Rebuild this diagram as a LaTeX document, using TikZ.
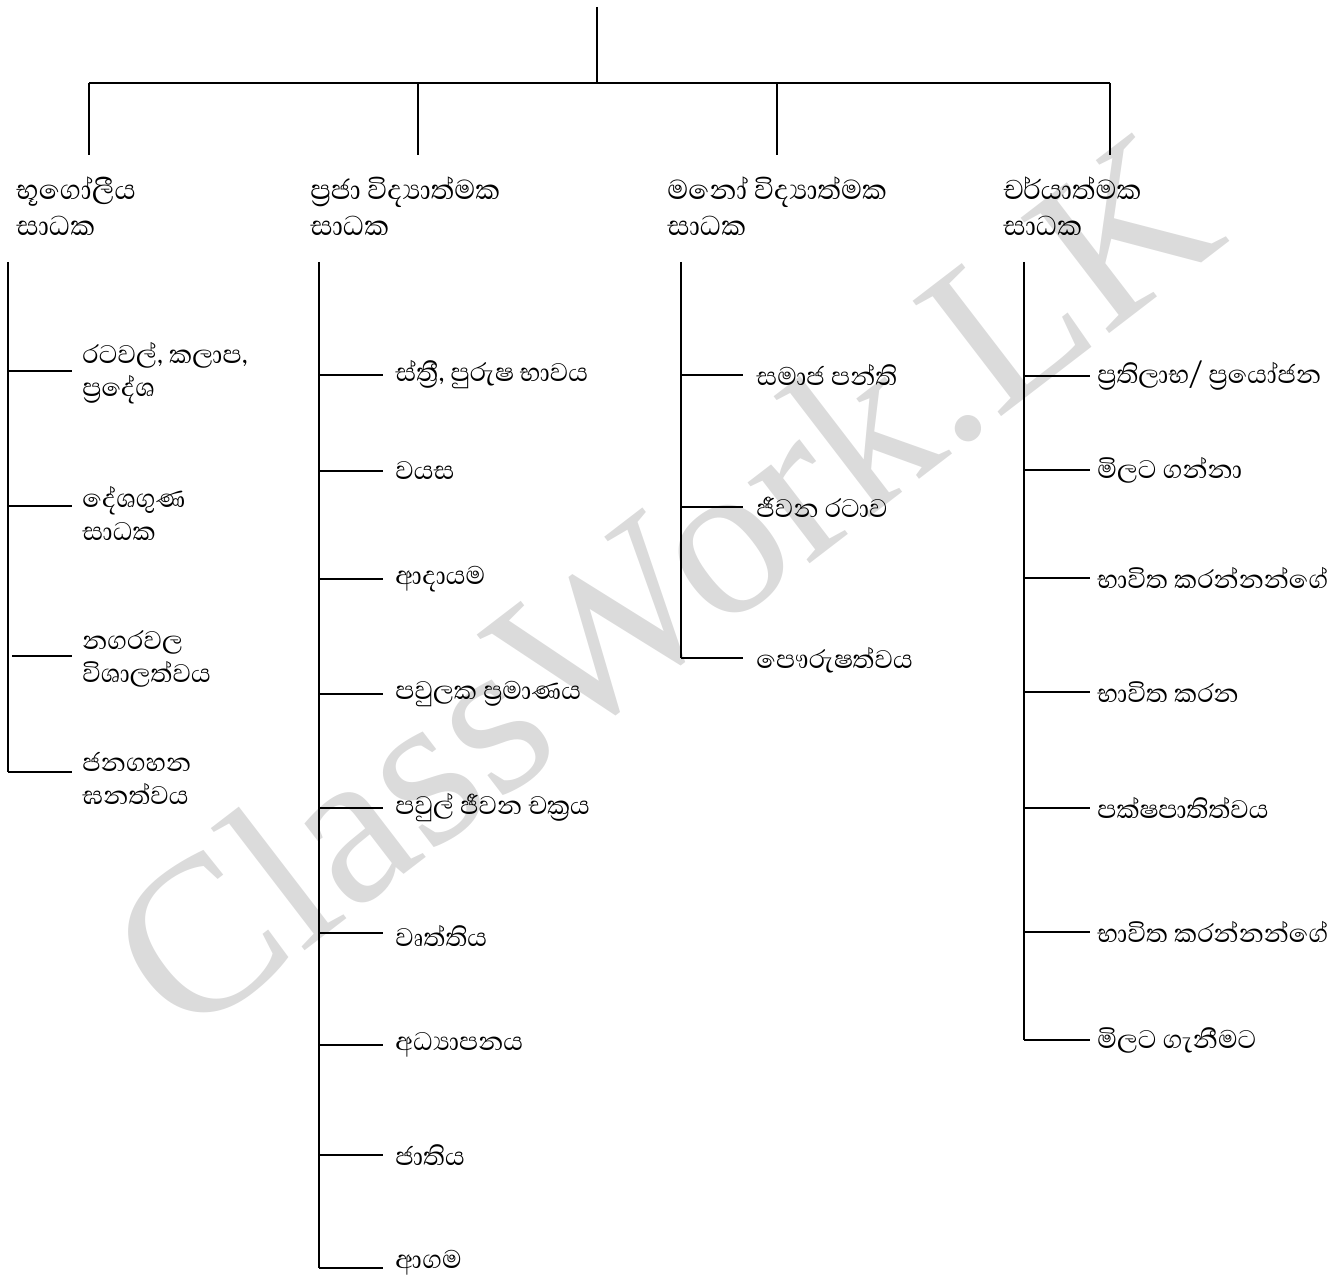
\documentclass[tikz,border=0pt]{standalone}
\usepackage{fontspec}
\newfontfamily\sinhalafont[Script=Sinhala]{Abhaya Libre}
\newfontfamily\wmfont{Liberation Serif}
\begin{document}
\begin{tikzpicture}[x=0.5pt,y=-0.5pt,
  conn/.style={line width=0.9pt,black},
  lbl/.style={anchor=west,inner sep=0pt,align=left,font=\sinhalafont\fontsize{16.3}{16.5}\selectfont},
  hdr/.style={anchor=north west,inner sep=0pt,align=left,font=\sinhalafont\fontsize{17.5}{18}\selectfont}]
\useasboundingbox (0,0) rectangle (1341,1278);
% watermark
\node[rotate=37.5,text=black!14,font=\wmfont\fontsize{111}{111}\selectfont,inner sep=0pt] (wm) at (662,582) {ClassWork.LK};
% top tree
\coordinate (top) at (597,7);
\coordinate (mid) at (597,83);
\coordinate (t1) at (89,83);
\coordinate (t2) at (418,83);
\coordinate (t3) at (777,83);
\coordinate (t4) at (1110,83);
\coordinate (u1) at (89,155);
\coordinate (u2) at (418,155);
\coordinate (u3) at (777,155);
\coordinate (u4) at (1110,155);
\draw[conn] (top) -- (mid);
\draw[conn] (t1) -- (t4);
\foreach \i in {1,2,3,4} \draw[conn] (t\i) -- (u\i);
% headers
\node[hdr] (h1) at (16,176) {භූගෝලීය\\සාධක};
\node[hdr] (h2) at (310,176) {ප්^^^^200dරජා විද්^^^^200dයාත්මක\\සාධක};
\node[hdr] (h3) at (667,176) {මනෝ විද්^^^^200dයාත්මක\\සාධක};
\node[hdr] (h4) at (1003,176) {චර්යාත්මක\\සාධක};
% column 1
\coordinate (v1a) at (8,262);
\coordinate (v1b) at (8,772);
\draw[conn] (v1a) -- (v1b);
\node[lbl] (a1) at (82,373) {රටවල්, කලාප,\\ප්^^^^200dරදේශ};
\node[lbl] (a2) at (82,513) {දේශගුණ\\සාධක};
\node[lbl] (a3) at (82,659) {නගරවල\\විශාලත්වය};
\node[lbl] (a4) at (82,778) {ජනගහන\\ඝනත්වය};
\foreach \n/\x/\y in {1/8/371,2/8/506,3/12/656,4/8/772}{
  \coordinate (ca\n) at (\x,\y);
  \coordinate (ea\n) at (72,\y);
  \draw[conn] (ca\n) -- (ea\n);
}
% column 2
\coordinate (v2a) at (319,262);
\coordinate (v2b) at (319,1268);
\draw[conn] (v2a) -- (v2b);
\foreach \n/\y/\t in {1/375/{ස්ත්^^^^200dරී, පුරුෂ භාවය},2/471/{වයස},3/579/{ආදායම},4/694/{පවුලක ප්^^^^200dරමාණය},5/808/{පවුල් ජීවන චක්^^^^200dරය},6/936/{වෘත්තිය},7/1045/{අධ්^^^^200dයාපනය},8/1155/{ජාතිය},9/1263/{ආගම}}{
  \node[lbl] (b\n) at (395,\y) {\t};
}
\foreach \n/\y in {1/375,2/471,3/579,4/694,5/808,6/933,7/1045,8/1155,9/1268}{
  \coordinate (cb\n) at (319,\y);
  \coordinate (eb\n) at (383,\y);
  \draw[conn] (cb\n) -- (eb\n);
}
% column 3
\coordinate (v3a) at (681,262);
\coordinate (v3b) at (681,658);
\draw[conn] (v3a) -- (v3b);
\foreach \n/\y/\t in {1/375/{සමාජ පන්ති},2/507/{ජීවන රටාව},3/660/{පෞරුෂත්වය}}{
  \node[lbl] (c\n) at (756,\y) {\t};
}
\foreach \n/\y in {1/375,2/507,3/658}{
  \coordinate (cc\n) at (681,\y);
  \coordinate (ec\n) at (743,\y);
  \draw[conn] (cc\n) -- (ec\n);
}
% column 4
\coordinate (v4a) at (1024,262);
\coordinate (v4b) at (1024,1040);
\draw[conn] (v4a) -- (v4b);
\foreach \n/\y/\t in {1/376/{ප්^^^^200dරතිලාභ/ ප්^^^^200dරයෝජන},2/470/{මිලට ගන්නා},3/578/{භාවිත කරන්නන්ගේ},4/692/{භාවිත කරන},5/808/{පක්ෂපාතිත්වය},6/932/{භාවිත කරන්නන්ගේ},7/1040/{මිලට ගැනීමට}}{
  \node[lbl] (e\n) at (1097,\y) {\t};
}
\foreach \n/\y in {1/376,2/470,3/578,4/692,5/808,6/932,7/1040}{
  \coordinate (cd\n) at (1024,\y);
  \coordinate (ed\n) at (1090,\y);
  \draw[conn] (cd\n) -- (ed\n);
}
\end{tikzpicture}
\end{document}
